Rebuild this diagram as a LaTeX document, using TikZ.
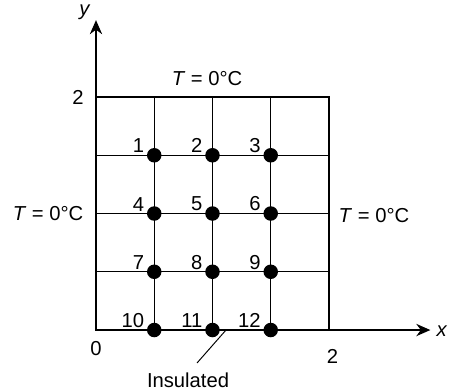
\documentclass[tikz,border=0pt]{standalone}
\usepackage{fontspec}
\setmainfont{Liberation Sans}
\usetikzlibrary{arrows.meta}

\begin{document}
\begin{tikzpicture}[x=2.33cm, y=2.33cm,
	every node/.style={font=\fontsize{11.5}{13}\selectfont},
	gridline/.style={line width=0.55pt},
	link/.style={line width=0.75pt},
	axis/.style={line width=0.8pt, -{Stealth[length=8pt,width=7pt]}},
	dot/.style={circle, fill, inner sep=0pt, minimum size=0.29cm},
	num/.style={anchor=south east, inner sep=1.2pt}]
	\useasboundingbox (-0.824,-0.506) rectangle (3.056,2.833);
	\foreach \v in {0.5,1,1.5} {
		\draw[gridline] (\v,0) -- (\v,2);
		\draw[gridline] (0,\v) -- (2,\v);
	}
	\draw[line width=0.8pt] (0,0) rectangle (2,2);
	\draw[axis] (0,0) -- (0,2.66);
	\draw[axis] (0,0) -- (2.87,0);
	\foreach \i/\px/\py in {1/0.5/1.5, 2/1/1.5, 3/1.5/1.5,
		4/0.5/1, 5/1/1, 6/1.5/1,
		7/0.5/0.5, 8/1/0.5, 9/1.5/0.5,
		10/0.5/0, 11/1/0, 12/1.5/0}
		\node[dot, label={[num]left:\i}] (n\i) at (\px,\py) {};
	\draw[link] (n1) -- (n4) -- (n7) -- (n10);
	\draw[link] (n2) -- (n5) -- (n8) -- (n11);
	\draw[link] (n3) -- (n6) -- (n9) -- (n12);
	\draw[link] (n4) -- (n5) -- (n6);
	\node (ylab) at (-0.094,2.73) {\textit{y}};
	\node (xlab) at (2.97,-0.01) {\textit{x}};
	\node (ytick) at (-0.155,2.0) {2};
	\node (orig) at (0,-0.155) {0};
	\node (xtick) at (2.03,-0.23) {2};
	\node (top) at (0.953,2.163) {\textit{T} = 0°C};
	\node (left) at (-0.412,0.996) {\textit{T} = 0°C};
	\node (right) at (2.386,0.987) {\textit{T} = 0°C};
	\node (insl) at (0.79,-0.43) {Insulated};
	\coordinate (ins) at (1.116,0);
	\draw[gridline] (ins) -- ([xshift=0.18cm, yshift=0.07cm]insl.north);
\end{tikzpicture}
\end{document}
